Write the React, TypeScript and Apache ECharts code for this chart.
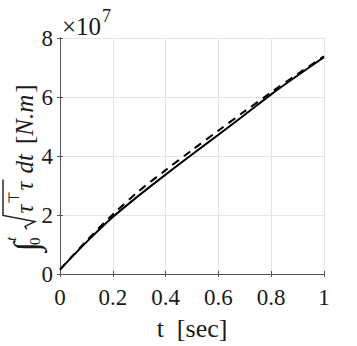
import React, { useEffect, useRef } from "react";
import * as echarts from "echarts";

// time samples [sec]
const tValues = [0, 0.1, 0.2, 0.3, 0.4, 0.5, 0.6, 0.7, 0.8, 0.9, 1.0];
// cumulative effort, in units of 1e7 N.m
const solidValues = [0.15, 1.08, 1.93, 2.67, 3.37, 4.05, 4.72, 5.4, 6.09, 6.73, 7.35];
const dashedValues = [0.15, 1.12, 2.02, 2.82, 3.52, 4.2, 4.86, 5.52, 6.16, 6.78, 7.38];
const xTickLabels = ["0", "0.2", "0.4", "0.6", "0.8", "1"];
const yTickLabels = ["0", "2", "4", "6", "8"];
const exponentBase = "×10";
const exponentPower = "7";

const FAMILY = "Liberation Serif";
const TEXT = "#1a1a1a";

function fontStr(size: number, italic = false) {
  return `${italic ? "italic " : ""}${size}px ${FAMILY}`;
}

function measure(text: string, size: number, italic = false): number {
  const c = document.createElement("canvas").getContext("2d");
  if (!c) return text.length * size * 0.5;
  c.font = fontStr(size, italic);
  return c.measureText(text).width;
}

function textEl(text: string, size: number, italic: boolean, x: number, y: number, align = "left") {
  return {
    type: "text",
    x,
    y,
    style: {
      text,
      font: fontStr(size, italic),
      fontSize: size,
      fontFamily: FAMILY,
      fontStyle: italic ? "italic" : "normal",
      fill: TEXT,
      textAlign: align,
      textVerticalAlign: "middle",
      align,
      verticalAlign: "middle",
    },
  };
}

function buildYName(): any[] {
  const items: any[] = [];
  const S = 25;
  const s = 15;
  let x = 0;
  const txt = (text: string, size: number, italic: boolean, dy: number, at: number) => {
    items.push(textEl(text, size, italic, at, dy));
    return measure(text, size, italic);
  };
  // integral with limits
  const wi = txt("∫", 35, false, 2, x);
  x += wi;
  const wt = txt("t", s, true, -13, x + 1);
  const w0 = txt("0", s, false, 11, x - 3);
  x += Math.max(wt, w0) + 5;
  // radical
  const r0 = x;
  x += 16;
  const w1 = txt("τ", S, true, 0, x);
  x += w1;
  const wT = txt("⊤", s, false, -10, x);
  x += wT + 1;
  const w2 = txt("τ", S, true, 0, x);
  x += w2 + 2;
  items.push({
    type: "polyline",
    shape: {
      points: [
        [r0, 3],
        [r0 + 3, 1],
        [r0 + 8, 11],
        [r0 + 14, -21],
        [x, -21],
      ],
    },
    style: { stroke: TEXT, lineWidth: 1.4, fill: "none" },
  });
  x += 6;
  const wd = txt("dt", S, true, 0, x);
  x += wd + 10;
  const wb = txt("[", S, false, 0, x);
  x += wb;
  const wn = txt("N.m", S, true, 0, x);
  x += wn + 2;
  const wc = txt("]", S, false, 0, x);
  x += wc;
  const L = x;
  items.forEach((it) => {
    if (it.type === "text") it.x -= L / 2;
    else it.shape.points = it.shape.points.map((p: number[]) => [p[0] - L / 2, p[1]]);
  });
  return items;
}

export default function App() {
  const ref = useRef<HTMLDivElement>(null);
  useEffect(() => {
    if (!ref.current) return;
    const chart = echarts.init(ref.current, undefined, { renderer: "svg" });
    const axisLine = { show: true, lineStyle: { color: "#555", width: 1 } };
    const tick = { show: true, inside: true, length: 3, lineStyle: { color: "#555" } };
    const labelStyle = { fontSize: 23, fontFamily: FAMILY, color: TEXT };
    const grid = { show: true, lineStyle: { color: "#e4e4e4", width: 1 } };
    const solid = tValues.map((t, i) => [t, solidValues[i]]);
    const dashed = tValues.map((t, i) => [t, dashedValues[i]]);
    const ePow = measure(exponentBase, 25);
    chart.setOption({
      animation: false,
      backgroundColor: "#fff",
      textStyle: { fontFamily: FAMILY },
      grid: { left: 60, right: 33, top: 38, bottom: 70, containLabel: false },
      xAxis: [
        {
          type: "value",
          min: 0,
          max: 1,
          interval: 0.2,
          position: "bottom",
          axisLine,
          axisTick: tick,
          splitLine: grid,
          axisLabel: {
            ...labelStyle,
            margin: 12,
            formatter: (v: number) => xTickLabels[Math.round(v / 0.2)] ?? "",
          },
          name: "t  [sec]",
          nameLocation: "middle",
          nameGap: 41,
          nameTextStyle: { fontSize: 26, fontFamily: FAMILY, color: TEXT },
        },
        {
          type: "value",
          min: 0,
          max: 1,
          interval: 0.2,
          position: "top",
          axisLine,
          axisTick: tick,
          splitLine: { show: false },
          axisLabel: { show: false },
        },
      ],
      yAxis: [
        {
          type: "value",
          min: 0,
          max: 8,
          interval: 2,
          position: "left",
          axisLine,
          axisTick: tick,
          splitLine: grid,
          axisLabel: {
            ...labelStyle,
            margin: 7,
            formatter: (v: number) => yTickLabels[Math.round(v / 2)] ?? "",
          },
        },
        {
          type: "value",
          min: 0,
          max: 8,
          interval: 2,
          position: "right",
          axisLine,
          axisTick: tick,
          splitLine: { show: false },
          axisLabel: { show: false },
        },
      ],
      series: [
        {
          type: "line",
          data: dashed,
          smooth: 0.3,
          showSymbol: false,
          lineStyle: { color: "#000", width: 2, type: [8, 6] },
          xAxisIndex: 0,
          yAxisIndex: 0,
        },
        {
          type: "line",
          data: solid,
          smooth: 0.3,
          showSymbol: false,
          lineStyle: { color: "#000", width: 2 },
          xAxisIndex: 0,
          yAxisIndex: 0,
        },
      ],
      graphic: [
        {
          type: "group",
          x: 24,
          y: 168,
          rotation: Math.PI / 2,
          children: buildYName(),
        },
        textEl(exponentBase, 25, false, 62, 26),
        textEl(exponentPower, 18, false, 62 + ePow + 1, 16),
      ],
    });
    return () => chart.dispose();
  }, []);
  return (
    <div
      ref={ref}
      style={{ position: "fixed", left: 0, top: 0, width: 357, height: 346, background: "#fff" }}
    />
  );
}
